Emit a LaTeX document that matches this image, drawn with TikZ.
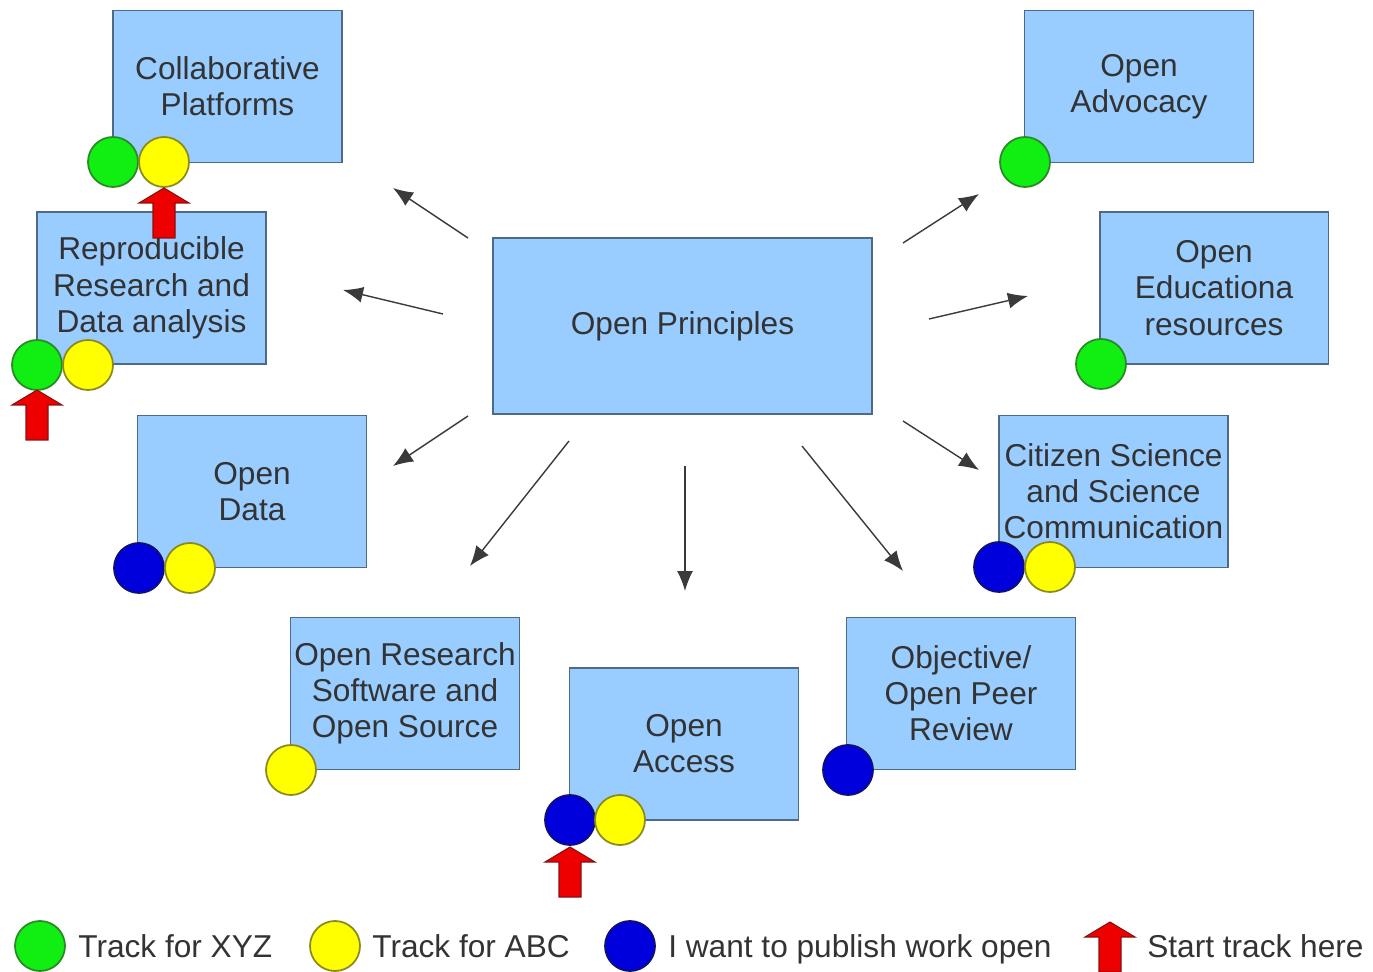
\documentclass[tikz,border=0pt]{standalone}
\usepackage{fontspec}
\setmainfont{Liberation Sans}
\usetikzlibrary{arrows.meta}
\definecolor{boxfill}{HTML}{99CCFF}
\definecolor{boxline}{HTML}{4F6A86}
\definecolor{textc}{HTML}{333333}
\definecolor{linkc}{HTML}{3A3A3A}
\definecolor{dotgreen}{HTML}{11EE11}
\definecolor{dotgreenline}{HTML}{2A8A2A}
\definecolor{dotyellow}{HTML}{FFFF00}
\definecolor{dotyellowline}{HTML}{8A8A20}
\definecolor{dotblue}{HTML}{0000DD}
\definecolor{dotblueline}{HTML}{101070}
\definecolor{redfill}{HTML}{EE0000}
\definecolor{redline}{HTML}{8A1010}
\begin{document}
\begin{tikzpicture}[x=0.02cm,y=-0.02cm,
  box/.style={draw=boxline, fill=boxfill, line width=1.1pt,
    minimum width=4.58cm, minimum height=3.04cm, align=center,
    text=textc, inner sep=0pt,
    font=\fontsize{18}{20.6}\selectfont},
  link/.style={draw=linkc, line width=0.8pt, -{Latex[length=4mm,width=3.2mm]}},
  dot/.style={circle, minimum size=1cm, inner sep=0pt, line width=1pt},
  green dot/.style={dot, fill=dotgreen, draw=dotgreenline},
  yellow dot/.style={dot, fill=dotyellow, draw=dotyellowline},
  blue dot/.style={dot, fill=dotblue, draw=dotblueline},
  legend/.style={anchor=base west, text=textc, inner sep=0pt,
    font=\fontsize{18}{20.6}\selectfont},
  startarrow/.pic={
    \path[fill=redfill, draw=redline, line width=0.6pt]
      (0,0) -- (25,15) -- (11,15) -- (11,50) -- (-11,50) -- (-11,15) -- (-25,15) -- cycle;
  }]
\useasboundingbox (0,0) rectangle (1373,972);

% topic boxes
\node[box] (collab)   at (227.5,86.5) {Collaborative\\Platforms};
\node[box] (advocacy) at (1139,86.5)  {Open\\Advocacy};
\node[box] (repro)    at (151.5,288)  {Reproducible\\Research and\\Data analysis};
\node[box, minimum width=7.58cm, minimum height=3.52cm] (principles) at (682.5,326) {Open Principles};
\node[box] (edu)      at (1214,288)   {Open\\Educationa\\resources};
\node[box] (data)     at (252,491.5)  {Open\\Data};
\node[box] (citizen)  at (1113.5,491.5) {Citizen Science\\and Science\\Communication};
\node[box] (software) at (405,693.5)  {Open Research\\Software and\\Open Source};
\node[box] (access)   at (684,744)    {Open\\Access};
\node[box] (review)   at (961,693.5)  {Objective/\\Open Peer\\Review};

% arrow ends around the central box
\coordinate (s1) at (468,238);  \coordinate (e1) at (393,188);
\coordinate (s2) at (443,314);  \coordinate (e2) at (343,290);
\coordinate (s3) at (468,416);  \coordinate (e3) at (393,466);
\coordinate (s4) at (569,441);  \coordinate (e4) at (470,566);
\coordinate (s5) at (685,466);  \coordinate (e5) at (685,591);
\coordinate (s6) at (802,446);  \coordinate (e6) at (903,571);
\coordinate (s7) at (903,421);  \coordinate (e7) at (979,470);
\coordinate (s8) at (929,319);  \coordinate (e8) at (1028,296);
\coordinate (s9) at (903,243);  \coordinate (e9) at (979,194);
\foreach \i in {1,...,9} \draw[link] (s\i) -- (e\i);

% track markers
\node[green dot]  (collabG) at (113,162) {};
\node[yellow dot] (collabY) at (164,162) {};
\pic at (164,188) {startarrow};
\node[green dot]  (advG) at (1025,162) {};
\node[green dot]  (reproG) at (37,365) {};
\node[yellow dot] (reproY) at (88,365) {};
\pic at (37,390) {startarrow};
\node[green dot]  (eduG) at (1101,364) {};
\node[blue dot]   (dataB) at (139,568) {};
\node[yellow dot] (dataY) at (190,568) {};
\node[blue dot]   (citB) at (999,567) {};
\node[yellow dot] (citY) at (1050,567) {};
\node[yellow dot] (softY) at (291,770) {};
\node[blue dot]   (accB) at (570,820) {};
\node[yellow dot] (accY) at (620,820) {};
\pic at (570,847) {startarrow};
\node[blue dot]   (revB) at (848,770) {};

% legend
\node[green dot]  (lg) at (40,946) {};
\node[legend] (lgt) at (78,957) {Track for XYZ};
\node[yellow dot] (ly) at (335,946) {};
\node[legend] (lyt) at (372,957) {Track for ABC};
\node[blue dot]   (lb) at (630,946) {};
\node[legend] (lbt) at (668,957) {I want to publish work open};
\pic at (1110,922) {startarrow};
\node[legend] (lrt) at (1147,957) {Start track here};
\end{tikzpicture}
\end{document}
